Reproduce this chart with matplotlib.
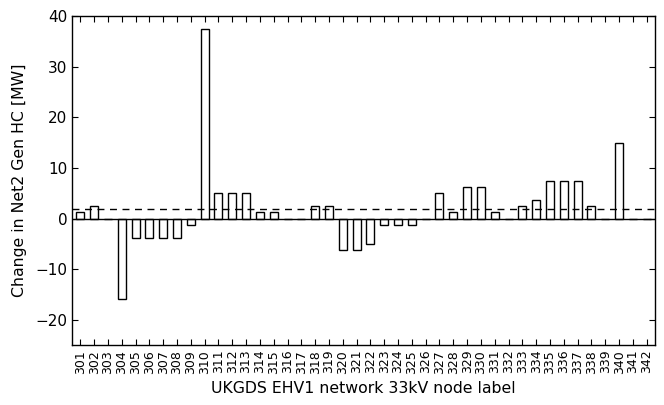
import matplotlib
matplotlib.use("Agg")
import matplotlib.pyplot as plt
import numpy as np

nodes = list(range(301, 343))
values = [1.25, 2.5, 0, -16.0, -3.75, -3.75, -3.75, -3.75, -1.25, 37.5,
          5.0, 5.0, 5.0, 1.25, 1.25, 0, 0, 2.5, 2.5, -6.25,
          -6.25, -5.0, -1.25, -1.25, -1.25, 0, 5.0, 1.25, 6.25, 6.25,
          1.25, 0, 2.5, 3.75, 7.5, 7.5, 7.5, 2.5, 0, 15.0,
          0, 0]
threshold = 1.8
tick_labels = [str(n) for n in nodes]

fig = plt.figure(figsize=(6.64, 4.05), dpi=100)
ax = fig.add_axes([72/664, 1 - 345/405, (655-72)/664, (345-16.3)/405])

ax.bar(nodes, values, width=0.58, color='white', edgecolor='black', linewidth=1.0, zorder=2)
ax.axhline(0, color='black', linewidth=1.0, zorder=3)
ax.axhline(threshold, color='black', linestyle=(0, (5, 4)), linewidth=1.0, zorder=4)

ax.set_xlim(300.4, 342.6)
ax.set_ylim(-25, 40)
ax.set_yticks([-20, -10, 0, 10, 20, 30, 40])
ax.set_xticks(nodes)
ax.set_xticklabels(tick_labels, rotation=90, fontsize=9)
ax.tick_params(axis='y', labelsize=11)
ax.tick_params(direction='in', top=True, right=True, length=4, width=0.8)
for s in ax.spines.values():
    s.set_linewidth(1.0)
ax.set_xlabel('UKGDS EHV1 network 33kV node label', fontsize=11.3, labelpad=5)
ax.set_ylabel('Change in Net2 Gen HC [MW]', fontsize=11.3, labelpad=6)

fig.savefig('out.png', dpi=100)
